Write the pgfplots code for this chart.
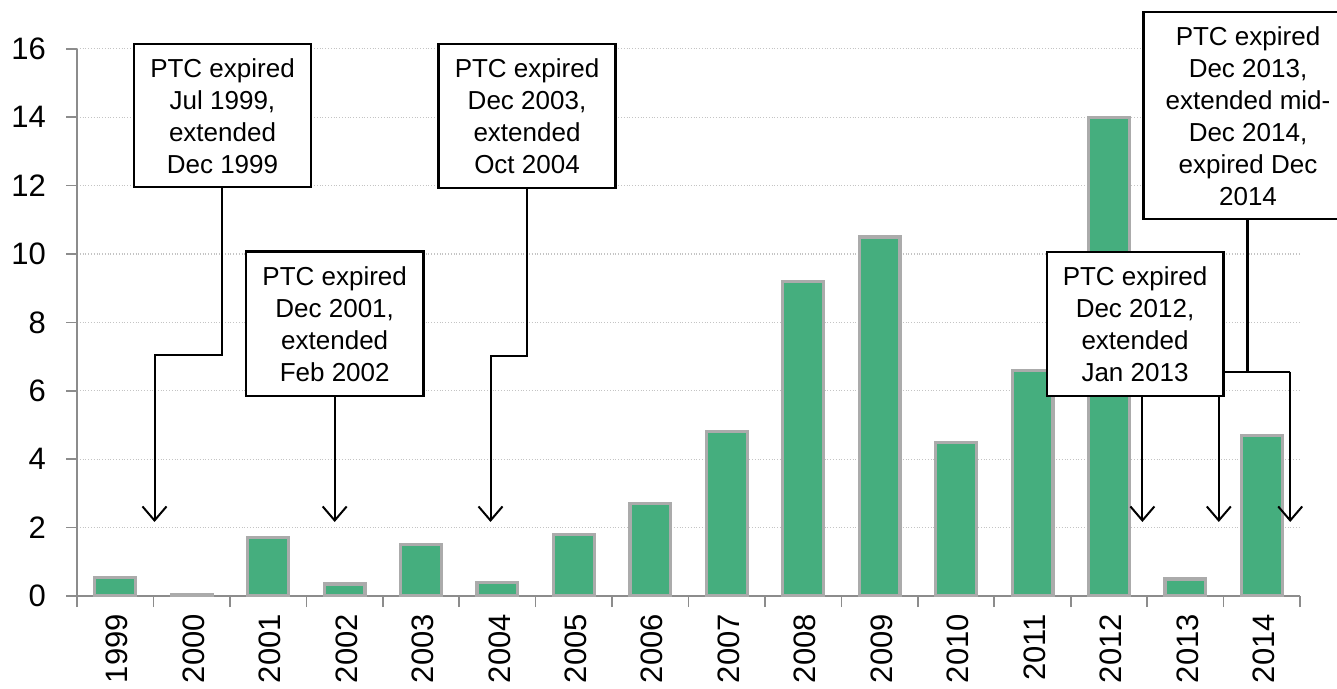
\documentclass[border=0pt]{standalone}
\usepackage{fontspec}
\setmainfont{Liberation Sans}
\usepackage{pgfplots}
\pgfplotsset{compat=1.18}
\usetikzlibrary{arrows.meta}
\definecolor{barg}{HTML}{45AE7E}
\definecolor{edgeg}{HTML}{ABABAB}
\definecolor{axg}{HTML}{8C8C8C}
\definecolor{gridg}{HTML}{C4C4C4}
\begin{document}
\begin{tikzpicture}
\begin{axis}[
  at={(0,0)}, anchor=south west,
  scale only axis, width=611.5bp, height=273.6bp,
  xmin=-0.5, xmax=15.5, ymin=0, ymax=16,
  axis lines*=left,
  axis line style={axg, line width=0.8bp},
  ytick={0,2,...,16},
  ymajorgrids, grid style={densely dotted, gridg, line width=0.6bp},
  xtick={0,...,15},
  xticklabels={1999,2000,2001,2002,2003,2004,2005,2006,2007,2008,2009,2010,2011,2012,2013,2014},
  major x tick style={draw=none},
  minor xtick={-0.5,0.5,...,15.5},
  minor x tick style={axg, line width=0.8bp},
  y tick style={axg, line width=0.8bp},
  major tick length=5.5bp, minor tick length=5.5bp,
  tick align=outside,
  tick label style={font=\fontsize{15.5bp}{18bp}\selectfont},
  xticklabel style={rotate=90, anchor=east, yshift=-1bp},
  yticklabel style={xshift=-6.5bp},
  /pgf/number format/assume math mode=true,
  ybar, bar width=20.4bp,
]
\addplot[fill=barg, draw=edgeg, line width=1.6bp] coordinates {
(0,0.55) (1,0.05) (2,1.7) (3,0.35) (4,1.5) (5,0.4) (6,1.8) (7,2.7)
(8,4.8) (9,9.2) (10,10.5) (11,4.5) (12,6.6) (13,14.0) (14,0.5) (15,4.7)
};
\end{axis}
\begin{scope}[x=0.5bp, y=-0.5bp, shift={(-38.5bp,298bp)},
  bx/.style={draw=black, fill=white, line width=1.2bp},
  tx/.style={align=center, font=\fontsize{13bp}{16bp}\selectfont, inner sep=0pt},
  cn/.style={line width=1bp},
  ar/.style={line width=1bp, -{Straight Barb[length=7bp,width=12bp]}}]
% box 1
\draw[ar] (222.3,187) -- (222.3,355.5) -- (154.5,355.5) -- (154.5,522);
\draw[bx] (134,44) rectangle (311,187);
\node[tx] at (222.5,116) {PTC expired\\Jul 1999,\\extended\\Dec 1999};
% box 2
\draw[ar] (334.7,396) -- (334.7,522);
\draw[bx] (246,251.5) rectangle (423.3,396);
\node[tx] at (334.7,324) {PTC expired\\Dec 2001,\\extended\\Feb 2002};
% box 3
\draw[ar] (527,188) -- (527,356) -- (490.5,356) -- (490.5,522);
\draw[bx] (438.5,44) rectangle (615.5,188);
\node[tx] at (527,116) {PTC expired\\Dec 2003,\\extended\\Oct 2004};
% box 5
\draw[line width=1.8bp] (1247.5,219.3) -- (1247.5,371.7);
\draw[cn] (1218.8,371.7) -- (1290.2,371.7);
\draw[ar] (1290.2,371.7) -- (1290.2,522);
\draw[ar] (1218.8,371.7) -- (1218.8,522);
\draw[bx] (1143.3,12.3) rectangle (1353,219.3);
\node[tx] at (1248,116) {PTC expired\\Dec 2013,\\extended mid-\\Dec 2014,\\expired Dec\\2014};
% box 4
\draw[ar] (1142.4,396) -- (1142.4,522);
\draw[bx] (1046.7,252) rectangle (1223.3,396);
\node[tx] at (1135,324) {PTC expired\\Dec 2012,\\extended\\Jan 2013};
\pgfresetboundingbox
\path[use as bounding box] (0,0) rectangle (1337,688);
\end{scope}
\end{tikzpicture}
\end{document}
